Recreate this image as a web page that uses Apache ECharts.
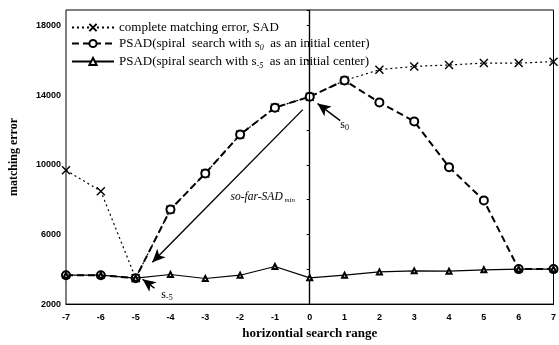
<!DOCTYPE html>
<html><head><meta charset="utf-8">
<script src="https://cdn.jsdelivr.net/npm/echarts@6/dist/echarts.min.js"></script>
<style>html,body{margin:0;padding:0;background:#fff}#c{width:559px;height:345px}</style>
</head><body><div id="c"></div>
<script>
var searchRange = [-7,-6,-5,-4,-3,-2,-1,0,1,2,3,4,5,6,7];
var sadValues   = [9690,8490,3490,7440,9510,11740,13290,13920,14850,15470,15660,15740,15850,15850,15930];
var psadS0      = [3660,3660,3490,7440,9510,11740,13290,13920,14850,13590,12500,9870,7960,4010,4010];
var psadSm5     = [3660,3660,3490,3700,3470,3660,4160,3510,3660,3850,3910,3890,3970,4010,4010];
var yTickLabels = [2000,6000,10000,14000,18000];
var seriesNames = ['complete matching error, SAD','PSAD(spiral  search with s0  as an initial center)','PSAD(spiral search with s-5  as an initial center)'];

function pairs(v){ return searchRange.map(function(x,i){ return [x, v[i]]; }); }
var serif = '"Liberation Serif", "DejaVu Serif", serif';
var sans = '"Liberation Sans", Arial, sans-serif';
var chart = echarts.init(document.getElementById('c'));
chart.setOption({
  animation:false,
  backgroundColor:'#fff',
  grid:{left:62,right:1,top:10,bottom:40,show:true,borderColor:'#000',borderWidth:1},
  legend:{
    orient:'vertical', left:66, top:16, itemGap:3, itemWidth:42, itemHeight:9,
    data:seriesNames,
    textStyle:{fontFamily:serif,fontSize:13,color:'#000',
      rich:{sub:{fontFamily:serif,fontSize:8,fontStyle:'italic',color:'#000',padding:[9,0,0,0]},
            n:{fontFamily:serif,fontSize:13,color:'#000'}}},
    formatter:function(name){
      if(name===seriesNames[1]) return '{n|PSAD(spiral  search with s}{sub|0}{n|  as an initial center)}';
      if(name===seriesNames[2]) return '{n|PSAD(spiral search with s}{sub|-5}{n|  as an initial center)}';
      return name;
    }
  },
  xAxis:{
    type:'value', min:-7, max:7, interval:1,
    name:'horizontial search range', nameLocation:'middle', nameGap:22,
    nameTextStyle:{fontFamily:serif,fontWeight:'bold',fontSize:13,color:'#000'},
    axisLine:{lineStyle:{color:'#000',width:1.2}},
    axisTick:{show:false},
    axisLabel:{fontFamily:sans,fontWeight:'bold',fontSize:9,color:'#000',margin:9},
    splitLine:{show:false}
  },
  yAxis:{
    type:'value', min:2000, max:18900, interval:2000,
    name:'matching error', nameLocation:'middle', nameGap:46,
    nameTextStyle:{fontFamily:serif,fontWeight:'bold',fontSize:12,color:'#000'},
    axisLine:{show:true,lineStyle:{color:'#000',width:1.2}},
    axisTick:{show:true,length:3,lineStyle:{color:'#000'}},
    axisLabel:{fontFamily:sans,fontWeight:'bold',fontSize:9,color:'#000',margin:5,
      formatter:function(v){ return yTickLabels.indexOf(v)>=0 ? String(v) : ''; }},
    splitLine:{show:false}
  },
  series:[
    {name:seriesNames[0], type:'line', data:pairs(sadValues),
      symbol:'path://M0,0L10,10M10,0L0,10', symbolSize:8,
      itemStyle:{color:'#000',borderColor:'#000',borderWidth:1.4},
      lineStyle:{color:'#000',width:1.2,type:[2,3]}, z:3},
    {name:seriesNames[1], type:'line', data:pairs(psadS0),
      symbol:'emptyCircle', symbolSize:8,
      itemStyle:{color:'#000',borderColor:'#000',borderWidth:1.6},
      lineStyle:{color:'#000',width:2,type:[7,4]}, z:4},
    {name:seriesNames[2], type:'line', data:pairs(psadSm5),
      symbol:'emptyTriangle', symbolSize:5,
      itemStyle:{color:'#000',borderColor:'#000',borderWidth:1.2},
      lineStyle:{color:'#000',width:1.2}, z:5},
    {name:'annot', type:'line', data:[], silent:true,
      markLine:{silent:true, symbol:['none','none'], label:{show:false},
        lineStyle:{color:'#000',width:1.2,type:'solid'},
        data:[{xAxis:0}]}},
    {name:'arrows', type:'line', data:[], silent:true,
      markLine:{silent:true, symbol:['none','arrow'], symbolSize:[9,13], label:{show:false},
        lineStyle:{color:'#000',width:1.4,type:'solid'},
        data:[
          [{coord:[-0.2,13175]},{coord:[-4.52,4400]}],
          [{coord:[0.875,12545]},{coord:[0.225,13520]}],
          [{coord:[-4.46,2917]},{coord:[-4.8,3430]}]
        ]},
      markPoint:{silent:true, symbol:'circle', symbolSize:0,
        label:{show:true,color:'#000',fontFamily:serif,fontSize:12,
          rich:{i:{fontFamily:serif,fontStyle:'italic',fontSize:11.5,color:'#000'},
                is:{fontFamily:serif,fontStyle:'italic',fontSize:7,color:'#000',padding:[6,0,0,0]},
                s:{fontFamily:serif,fontSize:12,color:'#000'},
                ss:{fontFamily:serif,fontSize:8,color:'#000',padding:[6,0,0,0]}}},
        data:[
          {coord:[-1.35,8130],value:0,label:{formatter:'{i|so-far-SAD}{is| min}'}},
          {coord:[1.0,12300],value:0,label:{formatter:'{s|s}{ss|0}'}},
          {coord:[-4.1,2550],value:0,label:{formatter:'{s|s}{ss|-5}'}}
        ]}}
  ]
});
</script></body></html>
